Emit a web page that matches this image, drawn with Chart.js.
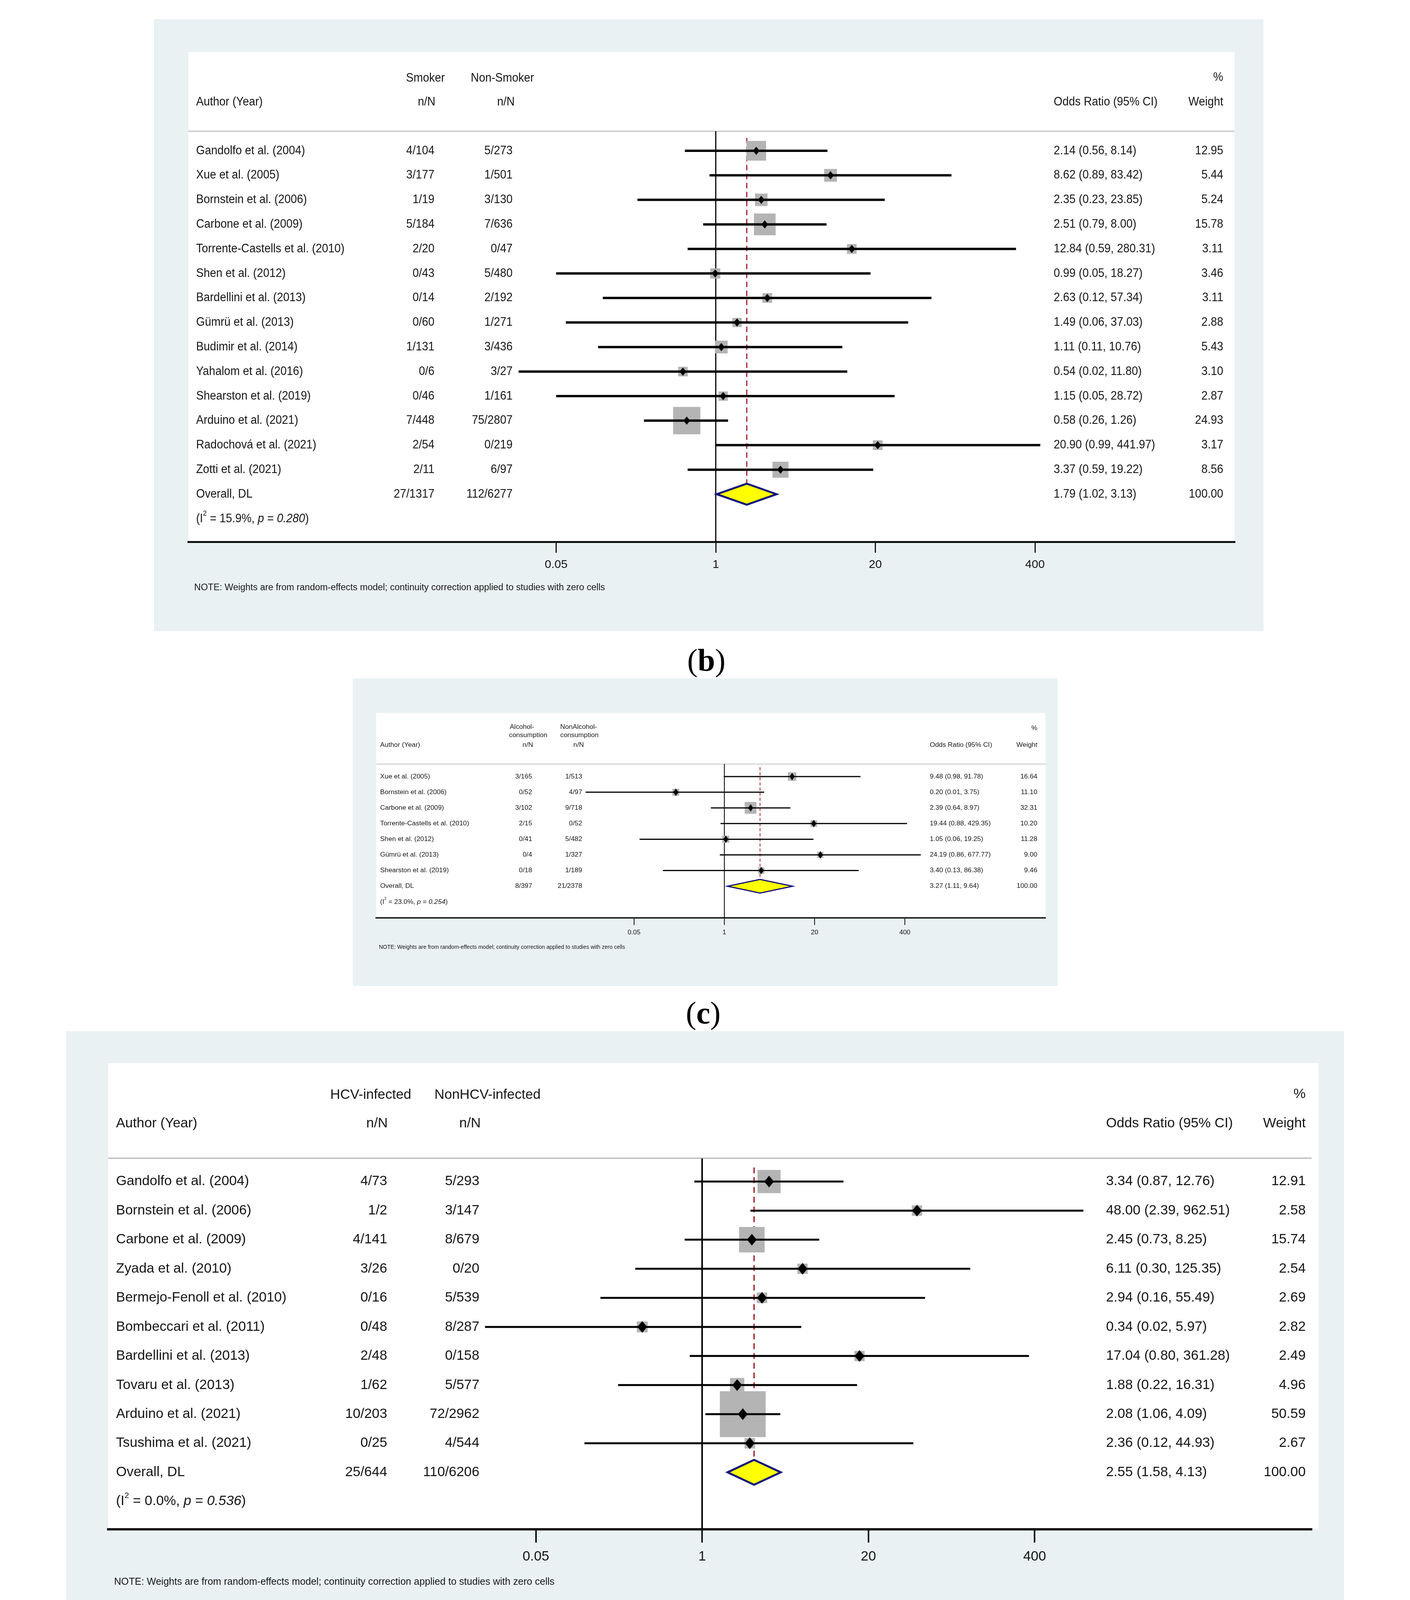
<!DOCTYPE html>
<html>
<head>
<meta charset="utf-8">
<script src="https://cdn.jsdelivr.net/npm/chart.js@4.4.0/dist/chart.umd.min.js"></script>
<style>
html,body{margin:0;padding:0;background:#fff;}
body{width:3609px;height:5926px;position:relative;overflow:hidden;}
.panel{position:absolute;background:#e9f1f3;}
.inner{position:absolute;background:#fff;}
.panel canvas{position:absolute;left:0;top:0;}
.lab{position:absolute;font-family:"Liberation Serif","Times New Roman",serif;font-size:80px;color:#000;transform:translate(-50%,-50%);white-space:nowrap;line-height:1;}
</style>
</head>
<body>
<script>
// ---------------- shared axis ----------------
const tickValues = [0.05, 1, 20, 400];
const tickLabels = ['0.05', '1', '20', '400'];
const authorHead = 'Author (Year)';
const overallLabel = 'Overall, DL';
const noteText = 'NOTE: Weights are from random-effects model; continuity correction applied to studies with zero cells';
const headWeight = ['%', 'Weight'];
const headORone = ['Odds Ratio (95% CI)'];
const headORtwo = ['Odds Ratio', '(95% CI)'];

// ---------------- (b) smoking ----------------
const bStudies = ['Gandolfo et al. (2004)', 'Xue et al. (2005)', 'Bornstein et al. (2006)', 'Carbone et al. (2009)', 'Torrente-Castells et al. (2010)', 'Shen et al. (2012)', 'Bardellini et al. (2013)', 'Gümrü et al. (2013)', 'Budimir et al. (2014)', 'Yahalom et al. (2016)', 'Shearston et al. (2019)', 'Arduino et al. (2021)', 'Radochová et al. (2021)', 'Zotti et al. (2021)'];
const bGroupA = ['4/104', '3/177', '1/19', '5/184', '2/20', '0/43', '0/14', '0/60', '1/131', '0/6', '0/46', '7/448', '2/54', '2/11'];
const bGroupB = ['5/273', '1/501', '3/130', '7/636', '0/47', '5/480', '2/192', '1/271', '3/436', '3/27', '1/161', '75/2807', '0/219', '6/97'];
const bOR = [2.14, 8.62, 2.35, 2.51, 12.84, 0.99, 2.63, 1.49, 1.11, 0.54, 1.15, 0.58, 20.90, 3.37];
const bLower = [0.56, 0.89, 0.23, 0.79, 0.59, 0.05, 0.12, 0.06, 0.11, 0.0247, 0.05, 0.26, 0.99, 0.59];
const bUpper = [8.14, 83.42, 23.85, 8.00, 280.31, 18.27, 57.34, 37.03, 10.76, 11.80, 28.72, 1.26, 441.97, 19.22];
const bWeight = [12.95, 5.44, 5.24, 15.78, 3.11, 3.46, 3.11, 2.88, 5.43, 3.10, 2.87, 24.93, 3.17, 8.56];
const bOverall = [1.79, 1.02, 3.13, 100.00];
const bTotals = ['27/1317', '112/6277'];
const bHet = [15.9, 0.280];
const bHeadA = ['Smoker', 'n/N'];
const bHeadB = ['Non-Smoker', 'n/N'];

// ---------------- (c) alcohol ----------------
const cStudies = ['Xue et al. (2005)', 'Bornstein et al. (2006)', 'Carbone et al. (2009)', 'Torrente-Castells et al. (2010)', 'Shen et al. (2012)', 'Gümrü et al. (2013)', 'Shearston et al. (2019)'];
const cGroupA = ['3/165', '0/52', '3/102', '2/15', '0/41', '0/4', '0/18'];
const cGroupB = ['1/513', '4/97', '9/718', '0/52', '5/482', '1/327', '1/189'];
const cOR = [9.48, 0.20, 2.39, 19.44, 1.05, 24.19, 3.40];
const cLower = [0.98, 0.01, 0.64, 0.88, 0.06, 0.86, 0.13];
const cUpper = [91.78, 3.75, 8.97, 429.35, 19.25, 677.77, 86.38];
const cWeight = [16.64, 11.10, 32.31, 10.20, 11.28, 9.00, 9.46];
const cOverall = [3.27, 1.11, 9.64, 100.00];
const cTotals = ['8/397', '21/2378'];
const cHet = [23.0, 0.254];
const cHeadA = ['Alcohol-', 'consumption', 'n/N'];
const cHeadB = ['NonAlcohol-', 'consumption', 'n/N'];

// ---------------- (d) HCV ----------------
const dStudies = ['Gandolfo et al. (2004)', 'Bornstein et al. (2006)', 'Carbone et al. (2009)', 'Zyada et al. (2010)', 'Bermejo-Fenoll et al. (2010)', 'Bombeccari et al. (2011)', 'Bardellini et al. (2013)', 'Tovaru et al. (2013)', 'Arduino et al. (2021)', 'Tsushima et al. (2021)'];
const dGroupA = ['4/73', '1/2', '4/141', '3/26', '0/16', '0/48', '2/48', '1/62', '10/203', '0/25'];
const dGroupB = ['5/293', '3/147', '8/679', '0/20', '5/539', '8/287', '0/158', '5/577', '72/2962', '4/544'];
const dOR = [3.34, 48.00, 2.45, 6.11, 2.94, 0.34, 17.04, 1.88, 2.08, 2.36];
const dLower = [0.87, 2.39, 0.73, 0.30, 0.16, 0.02, 0.80, 0.22, 1.06, 0.12];
const dUpper = [12.76, 962.51, 8.25, 125.35, 55.49, 5.97, 361.28, 16.31, 4.09, 44.93];
const dWeight = [12.91, 2.58, 15.74, 2.54, 2.69, 2.82, 2.49, 4.96, 50.59, 2.67];
const dOverall = [2.55, 1.58, 4.13, 100.00];
const dTotals = ['25/644', '110/6206'];
const dHet = [0.0, 0.536];
const dHeadA = ['HCV-infected', 'n/N'];
const dHeadB = ['NonHCV-infected', 'n/N'];

// ---------------- (e) diabetes ----------------
const eStudies = ['Xue et al. (2005)', 'Carbone et al. (2009)', 'Bombeccari et al. (2011)', 'Bardellini et al. (2013)', 'Tovaru et al. (2013)', 'Bandyopadhyay et al. (2017)', 'Radochová et al. (2021)', 'Tsushima et al. (2021)'];
const eGroupA = ['0/78', '1/66', '2/30', '0/5', '1/64', '0/19', '0/38', '0/40'];
const eGroupB = ['4/600', '11/754', '6/305', '2/201', '5/575', '2/126', '2/221', '4/529'];
const eOR = [0.84, 1.04, 3.56, 7.25, 1.81, 1.28, 1.14, 1.44];
const eLower = [0.05, 0.13, 0.69, 0.31, 0.21, 0.06, 0.05, 0.08];
const eUpper = [15.83, 8.18, 18.47, 169.69, 15.73, 27.61, 24.21, 27.25];
const eWeight = [8.54, 17.24, 27.05, 7.38, 15.68, 7.76, 7.86, 8.49];
const eOverall = [1.89, 0.80, 4.44, 100.00];
const eTotals = ['4/340', '36/3311'];
const eHet = [0.0, 0.955];
const eHeadA = ['DM', 'n/N'];
const eHeadB = ['Non-DM', 'n/N'];

// ---------------- layout (page pixels) ----------------
const FONT = '"Liberation Sans", Arial, Helvetica, sans-serif';
const TEXT = '#161616';

const layoutB = {
  outer: [394, 49, 3234, 1616], white: [482, 133, 3160], axisY: 1387,
  row0: 386, rowH: 62.8, p1: 1832, dec: 314,
  font: 31, sx: 0.93, tickFont: 30, noteW: 1052,
  headAX: [1089, 1092], headBX: [1286, 1295], headYs: [200, 261],
  authorHeadY: 261, orHeadYs: [261], wHeadYs: [198, 261],
  sepY: 336, sepW: 3,
  authorX: 502, aRight: 1112, bRight: 1312, orX: 2697, wRight: 3131,
  ciW: 6, boxK: 14, dot: [17, 21], diaHalf: 27, diaLW: 5, nullW: 3,
  dash: [14, 9], dashW: 3, dashTop: 353,
  tickLen: 28, tickW: 3, axisW: 5, tickPad: 13, axisH: 100,
  noteX: 497, noteY: 1505, lab: [1808, 1690]
};
const layoutC = {
  outer: [903, 1737, 2707, 2524], white: [963, 1825, 2676], axisY: 2350,
  row0: 1988, rowH: 40.1, p1: 1854, dec: 177.6,
  font: 17.3, sx: 1, tickFont: 17, noteW: 630,
  headAX: [1336, 1352, 1351], headBX: [1481, 1483, 1481], headYs: [1861, 1882, 1907],
  authorHeadY: 1907, orHeadYs: [1907], wHeadYs: [1864, 1907],
  sepY: 1956, sepW: 2,
  authorX: 973, aRight: 1362, bRight: 1490, orX: 2380, wRight: 2655,
  ciW: 3, boxK: 5.3, dot: [13, 19], diaHalf: 17.5, diaLW: 3, nullW: 2,
  dash: [8, 5], dashW: 2, dashTop: 1964,
  tickLen: 18, tickW: 2, axisW: 3.5, tickPad: 9, axisH: 60,
  noteX: 970, noteY: 2425, lab: [1800, 2593]
};
const layoutD = {
  outer: [169, 2640, 3440, 4164], white: [277, 2722, 3375], axisY: 3915,
  row0: 3024, rowH: 74.5, p1: 1806, dec: 329,
  font: 35.2, sx: 1, tickFont: 35, noteW: 1128,
  headAX: [949, 965], headBX: [1248, 1203], headYs: [2803, 2876],
  authorHeadY: 2876, orHeadYs: [2876], wHeadYs: [2801, 2876],
  sepY: 2965, sepW: 4,
  authorX: 297, aRight: 991, bRight: 1227, orX: 2831, wRight: 3342,
  ciW: 5, boxK: 16.5, dot: [25, 30], diaHalf: 32, diaLW: 5, nullW: 4,
  dash: [15, 10], dashW: 3.5, dashTop: 2988,
  tickLen: 34, tickW: 4, axisW: 6, tickPad: 15, axisH: 110,
  noteX: 292, noteY: 4050, lab: [1804, 4229]
};
const layoutE = {
  outer: [53, 4281, 3552, 5798], white: [170, 4384, 3482], axisY: 5510,
  row0: 4709, rowH: 80.2, p1: 1785, dec: 420,
  font: 35.6, sx: 1, tickFont: 35, noteW: 1372,
  headAX: [917, 921], headBX: [1177, 1180], headYs: [4469, 4549],
  authorHeadY: 4549, orHeadYs: [4467, 4549], wHeadYs: [4467, 4549],
  sepY: 4645, sepW: 4,
  authorX: 188, aRight: 947, bRight: 1200, orX: 2921, wRight: 3436,
  ciW: 6, boxK: 11.5, dot: [29, 30], diaHalf: 34.5, diaLW: 6, nullW: 4,
  dash: [24, 14], dashW: 4, dashTop: 4678,
  tickLen: 32, tickW: 4, axisW: 5.5, tickPad: 22, axisH: 120,
  noteX: 185, noteY: 5660, lab: [1804, 5862]
};

const panels = [
  { label: 'b', studies: bStudies, a: bGroupA, b: bGroupB, or: bOR, lo: bLower, hi: bUpper, w: bWeight, overall: bOverall, totals: bTotals, het: bHet, headA: bHeadA, headB: bHeadB, headOR: headORone, hollow: false, L: layoutB },
  { label: 'c', studies: cStudies, a: cGroupA, b: cGroupB, or: cOR, lo: cLower, hi: cUpper, w: cWeight, overall: cOverall, totals: cTotals, het: cHet, headA: cHeadA, headB: cHeadB, headOR: headORone, hollow: false, L: layoutC },
  { label: 'd', studies: dStudies, a: dGroupA, b: dGroupB, or: dOR, lo: dLower, hi: dUpper, w: dWeight, overall: dOverall, totals: dTotals, het: dHet, headA: dHeadA, headB: dHeadB, headOR: headORone, hollow: false, L: layoutD },
  { label: 'e', studies: eStudies, a: eGroupA, b: eGroupB, or: eOR, lo: eLower, hi: eUpper, w: eWeight, overall: eOverall, totals: eTotals, het: eHet, headA: eHeadA, headB: eHeadB, headOR: headORtwo, hollow: true, L: layoutE }
];

// ---------------- helpers ----------------
function makeDiamond(w, h, color) {
  const c = document.createElement('canvas');
  c.width = Math.ceil(w); c.height = Math.ceil(h);
  const g = c.getContext('2d');
  g.fillStyle = color;
  g.beginPath();
  g.moveTo(c.width / 2, 0); g.lineTo(c.width, c.height / 2);
  g.lineTo(c.width / 2, c.height); g.lineTo(0, c.height / 2);
  g.closePath(); g.fill();
  return c;
}
function setFont(ctx, size, italic) {
  ctx.font = (italic ? 'italic ' : '') + size + 'px ' + FONT;
}
function drawText(ctx, s, x, y, align, size, sx, italic) {
  ctx.save();
  setFont(ctx, size, italic);
  ctx.fillStyle = TEXT;
  ctx.textBaseline = 'middle';
  ctx.textAlign = align;
  ctx.translate(x, y);
  ctx.scale(sx, 1);
  ctx.fillText(s, 0, 0);
  ctx.restore();
}
function widthOf(ctx, s, size, sx, italic) {
  ctx.save(); setFont(ctx, size, italic);
  const w = ctx.measureText(s).width * sx;
  ctx.restore();
  return w;
}
const f2 = v => v.toFixed(2);
const orText = (e, l, h) => f2(e) + ' (' + f2(l) + ', ' + f2(h) + ')';

function makePlugin(P) {
  const L = P.L, ox = L.outer[0], oy = L.outer[1];
  const n = P.studies.length;
  return {
    id: 'forest' + P.label,
    beforeDatasetsDraw(chart) {
      const ctx = chart.ctx, ca = chart.chartArea;
      ctx.save();
      ctx.strokeStyle = '#c4c4c4';
      ctx.lineWidth = L.sepW;
      ctx.beginPath();
      ctx.moveTo(ca.left, L.sepY - oy);
      ctx.lineTo(ca.right, L.sepY - oy);
      ctx.stroke();
      ctx.restore();
    },
    afterDatasetsDraw(chart) {
      // pooled estimate diamond
      const ctx = chart.ctx, xs = chart.scales.x, ys = chart.scales.y;
      const xl = xs.getPixelForValue(P.overall[1]);
      const xe = xs.getPixelForValue(P.overall[0]);
      const xh = xs.getPixelForValue(P.overall[2]);
      const yc = ys.getPixelForValue(n);
      const hh = Math.abs(ys.getPixelForValue(n + L.diaHalf / L.rowH) - yc);
      ctx.save();
      ctx.beginPath();
      ctx.moveTo(xl, yc); ctx.lineTo(xe, yc - hh); ctx.lineTo(xh, yc); ctx.lineTo(xe, yc + hh);
      ctx.closePath();
      if (!P.hollow) { ctx.fillStyle = '#ffff00'; ctx.fill(); }
      ctx.lineJoin = 'miter';
      ctx.strokeStyle = '#10107a';
      ctx.lineWidth = L.diaLW;
      ctx.stroke();
      ctx.restore();
    },
    afterDraw(chart) {
      const ctx = chart.ctx, ys = chart.scales.y;
      const fs = L.font, sx = L.sx;
      // headers
      drawText(ctx, authorHead, L.authorX - ox, L.authorHeadY - oy, 'left', fs, sx);
      P.headA.forEach((t, j) => drawText(ctx, t, L.headAX[j] - ox, L.headYs[j] - oy, 'center', fs, sx));
      P.headB.forEach((t, j) => drawText(ctx, t, L.headBX[j] - ox, L.headYs[j] - oy, 'center', fs, sx));
      P.headOR.forEach((t, j) => drawText(ctx, t, L.orX - ox, L.orHeadYs[j] - oy, 'left', fs, sx));
      headWeight.forEach((t, j) => drawText(ctx, t, L.wRight - ox, L.wHeadYs[j] - oy, 'right', fs, sx));
      // study rows
      P.studies.forEach((s, i) => {
        const y = ys.getPixelForValue(i);
        drawText(ctx, s, L.authorX - ox, y, 'left', fs, sx);
        drawText(ctx, P.a[i], L.aRight - ox, y, 'right', fs, sx);
        drawText(ctx, P.b[i], L.bRight - ox, y, 'right', fs, sx);
        drawText(ctx, orText(P.or[i], P.lo[i], P.hi[i]), L.orX - ox, y, 'left', fs, sx);
        drawText(ctx, f2(P.w[i]), L.wRight - ox, y, 'right', fs, sx);
      });
      // overall row
      const yo = ys.getPixelForValue(n);
      drawText(ctx, overallLabel, L.authorX - ox, yo, 'left', fs, sx);
      drawText(ctx, P.totals[0], L.aRight - ox, yo, 'right', fs, sx);
      drawText(ctx, P.totals[1], L.bRight - ox, yo, 'right', fs, sx);
      drawText(ctx, orText(P.overall[0], P.overall[1], P.overall[2]), L.orX - ox, yo, 'left', fs, sx);
      drawText(ctx, f2(P.overall[3]), L.wRight - ox, yo, 'right', fs, sx);
      // heterogeneity
      const yh = ys.getPixelForValue(n + 1);
      const segs = [
        { t: '(I' }, { t: '2', sup: true }, { t: ' = ' + P.het[0].toFixed(1) + '%, ' },
        { t: 'p', it: true }, { t: ' = ' }, { t: P.het[1].toFixed(3), it: true }, { t: ')' }
      ];
      let x = L.authorX - ox;
      segs.forEach(sg => {
        const size = sg.sup ? fs * 0.6 : fs;
        const yy = sg.sup ? yh - fs * 0.42 : yh;
        drawText(ctx, sg.t, x, yy, 'left', size, sx, sg.it);
        x += widthOf(ctx, sg.t, size, sx, sg.it);
      });
      // note
      const nsz = 100 * L.noteW / widthOf(ctx, noteText, 100, 1, false);
      drawText(ctx, noteText, L.noteX - ox, L.noteY - oy, 'left', nsz, 1);
    }
  };
}

function buildPanel(P) {
  const L = P.L;
  const [ox, oy, ox2, oy2] = L.outer;
  const W = ox2 - ox, H = oy2 - oy;
  const panel = document.createElement('div');
  panel.className = 'panel';
  Object.assign(panel.style, { left: ox + 'px', top: oy + 'px', width: W + 'px', height: H + 'px' });
  const inner = document.createElement('div');
  inner.className = 'inner';
  Object.assign(inner.style, { left: (L.white[0] - ox) + 'px', top: (L.white[1] - oy) + 'px', width: (L.white[2] - L.white[0]) + 'px', height: (L.axisY - L.white[1]) + 'px' });
  panel.appendChild(inner);
  const cv = document.createElement('canvas');
  cv.width = W; cv.height = H;
  cv.style.width = W + 'px'; cv.style.height = H + 'px';
  panel.appendChild(cv);
  document.body.appendChild(panel);
  const lab = document.createElement('div');
  lab.className = 'lab';
  lab.style.left = L.lab[0] + 'px'; lab.style.top = L.lab[1] + 'px';
  lab.innerHTML = '(<b>' + P.label + '</b>)';
  document.body.appendChild(lab);

  const n = P.studies.length;
  const rowOf = px => (px - L.row0) / L.rowH;
  const yMin = rowOf(L.white[1]), yMax = rowOf(L.axisY);
  const xMin = Math.pow(10, (L.white[0] - L.p1) / L.dec);
  const xMax = Math.pow(10, (L.white[2] - L.p1) / L.dec);
  const idx = P.studies.map((_, i) => i);

  // confidence intervals: one polyline broken by gaps between studies
  const ciData = [];
  idx.forEach(i => {
    ciData.push({ x: P.lo[i], y: i }, { x: P.hi[i], y: i }, { x: null, y: null });
  });

  const datasets = [
    { type: 'scatter', label: 'estimate', order: 0,
      data: idx.map(i => ({ x: P.or[i], y: i })),
      pointStyle: makeDiamond(L.dot[0], L.dot[1], '#000'), pointRadius: 6, borderWidth: 0 },
    { type: 'scatter', label: '95% CI', order: 1, showLine: true, spanGaps: false,
      data: ciData, borderColor: '#000', borderWidth: L.ciW, borderCapStyle: 'butt', pointRadius: 0 },
    { type: 'scatter', label: 'weight', order: 2,
      data: idx.map(i => ({ x: P.or[i], y: i })),
      pointStyle: 'rect', pointRadius: idx.map(i => L.boxK * Math.sqrt(P.w[i]) / Math.SQRT2),
      backgroundColor: '#b4b4b4', borderWidth: 0 },
    { type: 'scatter', label: 'no effect', order: 3, showLine: true,
      data: [{ x: 1, y: rowOf(L.sepY) }, { x: 1, y: yMax }],
      borderColor: '#000', borderWidth: L.nullW, pointRadius: 0 },
    { type: 'scatter', label: 'pooled', order: 3, showLine: true,
      data: [{ x: P.overall[0], y: rowOf(L.dashTop) }, { x: P.overall[0], y: n + L.diaHalf / L.rowH }],
      borderColor: '#a3222b', borderWidth: L.dashW, borderDash: L.dash, pointRadius: 0 }
  ];

  new Chart(cv, {
    type: 'scatter',
    data: { datasets },
    options: {
      responsive: false, animation: false, devicePixelRatio: 1, events: [],
      layout: { padding: { left: L.white[0] - ox, right: ox2 - L.white[2], top: L.white[1] - oy, bottom: H - (L.axisY - oy) - L.axisH } },
      plugins: { legend: { display: false }, tooltip: { enabled: false } },
      scales: {
        x: {
          type: 'logarithmic', min: xMin, max: xMax, bounds: 'data', offset: false,
          afterBuildTicks: s => { s.ticks = tickValues.map(v => ({ value: v })); },
          afterFit: s => { s.height = L.axisH; },
          ticks: { autoSkip: false, maxRotation: 0, minRotation: 0, padding: L.tickPad, color: TEXT,
                   font: { family: FONT, size: L.tickFont }, callback: (v, i) => tickLabels[i] },
          grid: { offset: false, drawOnChartArea: false, drawTicks: true, tickLength: L.tickLen, tickWidth: L.tickW,
                  tickColor: '#111', color: '#111', lineWidth: L.tickW },
          border: { display: true, color: '#111', width: L.axisW }
        },
        y: { type: 'linear', display: false, reverse: true, min: yMin, max: yMax, bounds: 'data', offset: false, grid: { offset: false } }
      }
    },
    plugins: [makePlugin(P)]
  });
}

panels.forEach(buildPanel);
</script>
</body>
</html>
